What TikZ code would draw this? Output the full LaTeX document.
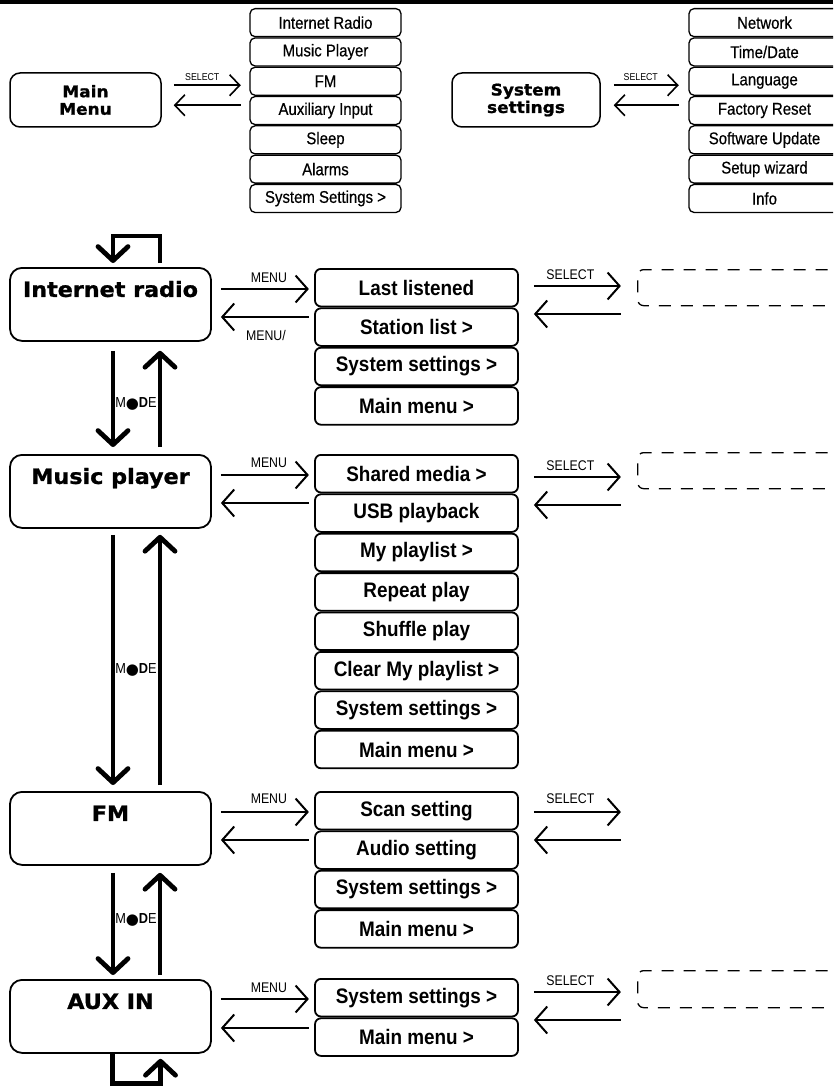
\documentclass[tikz,border=0pt]{standalone}
\usepackage{fontspec}
\setmainfont{Liberation Sans}
\newfontfamily\titlefont[FakeStretch=1.06,FakeBold=1.2]{DejaVu Sans}
\newfontfamily\listfont[FakeStretch=0.9]{Liberation Sans}
\newfontfamily\topfont[FakeStretch=0.88,FakeBold=0.5]{Liberation Sans}
\newfontfamily\smallfont[FakeStretch=0.88]{Liberation Sans}
\newfontfamily\symfont{DejaVu Sans}
\usetikzlibrary{arrows.meta,calc}
\tikzset{
  mbox/.style={draw, line width=1.5pt, rounded corners=10pt, minimum width=151pt, minimum height=54pt,
    inner sep=0pt, align=center, font=\titlefont\bfseries\fontsize{16}{17.5}\selectfont},
  sbox/.style={mbox, minimum width=148pt},
  toprow/.style={draw, line width=1.3pt, rounded corners=5pt, minimum width=151pt, minimum height=28pt,
    inner sep=0pt, anchor=north, font=\topfont\fontsize{17}{18}\selectfont},
  modebox/.style={draw, line width=1.8pt, rounded corners=12pt, minimum width=201pt, inner sep=0pt,
    text height=29pt, text depth=44pt, anchor=north, font=\titlefont\bfseries\fontsize{21}{22}\selectfont},
  subrow/.style={draw, line width=1.8pt, rounded corners=6pt, minimum width=203pt, minimum height=37.6pt,
    inner sep=0pt, anchor=north, font=\listfont\bfseries\fontsize{21}{22}\selectfont},
  dashbox/.style={draw, line width=1.3pt, dash pattern=on 12pt off 10pt, rounded corners=6pt,
    minimum width=240pt, inner sep=0pt, anchor=north west},
  toparrow/.style={line width=1.6pt, -{Straight Barb[length=10pt,width=21pt]}},
  thinarrow/.style={line width=2pt, -{Straight Barb[length=12pt,width=27pt]}},
  boldarrow/.style={line width=4.8pt, -{Straight Barb[length=14pt,width=30pt,round]}},
  loopline/.style={boldarrow, line join=miter},
  toplabel/.style={inner sep=0pt, font=\smallfont\fontsize{10}{10}\selectfont},
  arrlabel/.style={inner sep=0pt, font=\smallfont\fontsize{14}{14}\selectfont},
  modelabel/.style={inner sep=0pt, font=\smallfont\fontsize{14.5}{14.5}\selectfont},
}
\newcommand{\modetext}{M\raisebox{-0.6pt}{\symfont\fontsize{15}{15}\selectfont ●}{\bfseries D}E}
\begin{document}
\begin{tikzpicture}[x=1pt,y=-1pt]
\useasboundingbox (0,0) rectangle (833,1086);
\clip (0,0) rectangle (833,1086);
\fill (0,0) rectangle (833,4.5);

% ---------- Main menu ----------
\node[mbox] (mm) at (85.5,100) {Main\\Menu};
\node[toprow] (ml1) at (325.5,8) {Internet Radio};
\node[toprow] (ml2) at (ml1.south) {Music Player};
\node[toprow] (ml3) at (ml2.south) {FM};
\node[toprow] (ml4) at (ml3.south) {Auxiliary Input};
\node[toprow] (ml5) at (ml4.south) {Sleep};
\node[toprow] (ml6) at (ml5.south) {Alarms};
\node[toprow] (ml7) at (ml6.south) {System Settings >};
\draw[toparrow] ($(mm.north east)+(12,13)$) -- ($(mm.north east)+(79,13)$);
\draw[toparrow] ($(mm.north east)+(79,33)$) -- ($(mm.north east)+(12,33)$);
\node[toplabel] (mmsel) at ($(mm.north east)+(40.5,5)$) {SELECT};

% ---------- System settings ----------
\node[sbox] (ss) at (526,100) {System\\settings};
\node[toprow] (sl1) at (764.5,8) {Network};
\node[toprow] (sl2) at (sl1.south) {Time/Date};
\node[toprow] (sl3) at (sl2.south) {Language};
\node[toprow] (sl4) at (sl3.south) {Factory Reset};
\node[toprow] (sl5) at (sl4.south) {Software Update};
\node[toprow] (sl6) at (sl5.south) {Setup wizard};
\node[toprow] (sl7) at (sl6.south) {Info};
\draw[toparrow] ($(ss.north east)+(13,13)$) -- ($(ss.north east)+(78,13)$);
\draw[toparrow] ($(ss.north east)+(78,33)$) -- ($(ss.north east)+(13,33)$);
\node[toplabel] (sssel) at ($(ss.north east)+(40,5)$) {SELECT};

% ---------- Internet radio ----------
\node[modebox] (ir) at (110.5,267) {Internet radio};
\node[subrow] (ir1) at (416.5,268) {Last listened};
\node[subrow] (ir2) at (ir1.south) {Station list >};
\node[subrow] (ir3) at (ir2.south) {System settings >};
\node[subrow] (ir4) at (ir3.south) {Main menu >};
\draw[thinarrow] ($(ir.north east)+(9,22)$) -- ($(ir.north east)+(97,22)$);
\draw[thinarrow] ($(ir.north east)+(97,50)$) -- ($(ir.north east)+(9,50)$);
\node[arrlabel] (irmenu) at ($(ir.north east)+(57,10.5)$) {MENU};
\node[arrlabel] (irmenub) at ($(ir.north east)+(54,68)$) {MENU/};
\draw[thinarrow] ($(ir1.north east)+(15,18)$) -- ($(ir1.north east)+(102,18)$);
\draw[thinarrow] ($(ir1.north east)+(102,46)$) -- ($(ir1.north east)+(15,46)$);
\node[arrlabel] (irsel) at ($(ir1.north east)+(51.5,6.5)$) {SELECT};
\node[dashbox, minimum height=36pt] (d1) at (637,269) {};
\draw[loopline] ($(ir.north)+(49.5,-4)$) -- ++(0,-27) -- ++(-47,0) -- ++(0,27);

% ---------- Music player ----------
\node[modebox] (mp) at (110.5,454) {Music player};
\node[subrow] (mp1) at (416.5,454) {Shared media >};
\node[subrow] (mp2) at (mp1.south) {USB playback};
\node[subrow] (mp3) at (mp2.south) {My playlist >};
\node[subrow] (mp4) at (mp3.south) {Repeat play};
\node[subrow] (mp5) at (mp4.south) {Shuffle play};
\node[subrow] (mp6) at (mp5.south) {Clear My playlist >};
\node[subrow] (mp7) at (mp6.south) {System settings >};
\node[subrow] (mp8) at (mp7.south) {Main menu >};
\draw[thinarrow] ($(mp.north east)+(9,21)$) -- ($(mp.north east)+(97,21)$);
\draw[thinarrow] ($(mp.north east)+(97,49)$) -- ($(mp.north east)+(9,49)$);
\node[arrlabel] (mpmenu) at ($(mp.north east)+(57,9)$) {MENU};
\draw[thinarrow] ($(mp1.north east)+(15,23)$) -- ($(mp1.north east)+(102,23)$);
\draw[thinarrow] ($(mp1.north east)+(102,51)$) -- ($(mp1.north east)+(15,51)$);
\node[arrlabel] (mpsel) at ($(mp1.north east)+(51.5,11.5)$) {SELECT};
\node[dashbox, minimum height=36pt] (d2) at (637,452) {};

% ---------- FM ----------
\node[modebox] (fm) at (110.5,791) {FM};
\node[subrow] (fm1) at (416.5,791) {Scan setting};
\node[subrow] (fm2) at (fm1.south) {Audio setting};
\node[subrow] (fm3) at (fm2.south) {System settings >};
\node[subrow] (fm4) at (fm3.south) {Main menu >};
\draw[thinarrow] ($(fm.north east)+(9,21)$) -- ($(fm.north east)+(97,21)$);
\draw[thinarrow] ($(fm.north east)+(97,49)$) -- ($(fm.north east)+(9,49)$);
\node[arrlabel] (fmmenu) at ($(fm.north east)+(57,7.5)$) {MENU};
\draw[thinarrow] ($(fm1.north east)+(15,21)$) -- ($(fm1.north east)+(102,21)$);
\draw[thinarrow] ($(fm1.north east)+(102,49)$) -- ($(fm1.north east)+(15,49)$);
\node[arrlabel] (fmsel) at ($(fm1.north east)+(51.5,8)$) {SELECT};

% ---------- AUX IN ----------
\node[modebox] (ax) at (110.5,979) {AUX IN};
\node[subrow] (ax1) at (416.5,978) {System settings >};
\node[subrow] (ax2) at (ax1.south) {Main menu >};
\draw[thinarrow] ($(ax.north east)+(9,20)$) -- ($(ax.north east)+(97,20)$);
\draw[thinarrow] ($(ax.north east)+(97,49)$) -- ($(ax.north east)+(9,49)$);
\node[arrlabel] (axmenu) at ($(ax.north east)+(57,8.5)$) {MENU};
\draw[thinarrow] ($(ax1.north east)+(15,14)$) -- ($(ax1.north east)+(102,14)$);
\draw[thinarrow] ($(ax1.north east)+(102,42)$) -- ($(ax1.north east)+(15,42)$);
\node[arrlabel] (axsel) at ($(ax1.north east)+(51.5,3)$) {SELECT};
\node[dashbox, minimum height=37pt] (d3) at (637,970) {};
\draw[loopline] ($(ax.south)+(2,0)$) -- ++(0,30) -- ++(48,0) -- ++(0,-25);

% ---------- MODE arrows ----------
\draw[boldarrow] ($(ir.south)+(2.5,9)$) -- ($(mp.north)+(2.5,-7)$);
\draw[boldarrow] ($(mp.north)+(49.5,-7)$) -- ($(ir.south)+(49.5,9)$);
\node[modelabel] (mode1) at ($(ir.south)+(25.5,62)$) {\modetext};
\draw[boldarrow] ($(mp.south)+(2.5,6)$) -- ($(fm.north)+(2.5,-6)$);
\draw[boldarrow] ($(fm.north)+(49.5,-6)$) -- ($(mp.south)+(49.5,6)$);
\node[modelabel] (mode2) at ($(mp.south)+(25.5,141)$) {\modetext};
\draw[boldarrow] ($(fm.south)+(2.5,7)$) -- ($(ax.north)+(2.5,-4)$);
\draw[boldarrow] ($(ax.north)+(49.5,-4)$) -- ($(fm.south)+(49.5,7)$);
\node[modelabel] (mode3) at ($(fm.south)+(25.5,54)$) {\modetext};
\end{tikzpicture}
\end{document}
